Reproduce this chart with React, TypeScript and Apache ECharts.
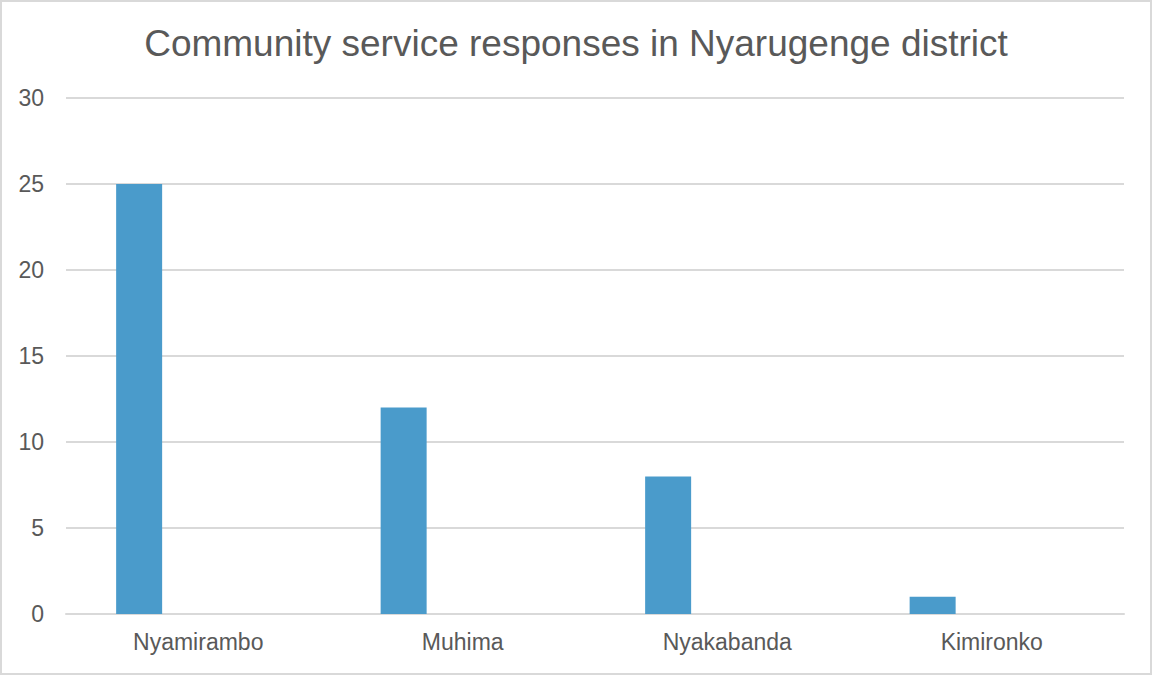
import React, { useEffect, useRef } from "react";
import * as echarts from "echarts";

const categories = ["Nyamirambo", "Muhima", "Nyakabanda", "Kimironko"];
const responses = [25, 12, 8, 1];
const emptySeries = ["-", "-", "-", "-"];
const yTicks = { min: 0, max: 30, interval: 5 };

export default function App() {
  const ref = useRef<HTMLDivElement>(null);
  useEffect(() => {
    if (!ref.current) return;
    const chart = echarts.init(ref.current, undefined, { renderer: "svg" });
    chart.setOption({
      animation: false,
      backgroundColor: "#ffffff",
      title: {
        text: "Community service responses in Nyarugenge district",
        left: "center",
        top: 20,
        textStyle: {
          fontFamily: "Liberation Sans, Arial, sans-serif",
          fontSize: 37,
          fontWeight: "normal",
          color: "#595959",
        },
      },
      grid: { left: 66, right: 28, top: 98, bottom: 61, containLabel: false },
      xAxis: {
        type: "category",
        data: categories,
        axisLine: { lineStyle: { color: "#d9d9d9", width: 2 } },
        axisTick: { show: false },
        axisLabel: {
          color: "#595959",
          fontSize: 23,
          fontFamily: "Liberation Sans, Arial, sans-serif",
          margin: 16,
        },
      },
      yAxis: {
        type: "value",
        min: yTicks.min,
        max: yTicks.max,
        interval: yTicks.interval,
        axisLine: { show: false },
        axisTick: { show: false },
        splitLine: { lineStyle: { color: "#d9d9d9", width: 2 } },
        axisLabel: {
          color: "#595959",
          fontSize: 23,
          fontFamily: "Liberation Sans, Arial, sans-serif",
          margin: 22,
        },
      },
      series: [
        {
          type: "bar",
          data: responses,
          barWidth: 46,
          barGap: "157%",
          itemStyle: { color: "#4a9bcb" },
        },
        {
          type: "bar",
          data: emptySeries,
          barWidth: 46,
          itemStyle: { color: "#4a9bcb" },
        },
      ],
    });
    return () => chart.dispose();
  }, []);
  return (
    <div style={{ position: "fixed", left: 0, top: 0, width: 1152, height: 675 }}>
      <div ref={ref} style={{ position: "absolute", left: 0, top: 0, width: 1152, height: 675 }} />
      <div
        style={{
          position: "absolute",
          left: 0,
          top: 0,
          width: 1152,
          height: 675,
          boxSizing: "border-box",
          border: "2px solid #d9d9d9",
          pointerEvents: "none",
        }}
      />
    </div>
  );
}
